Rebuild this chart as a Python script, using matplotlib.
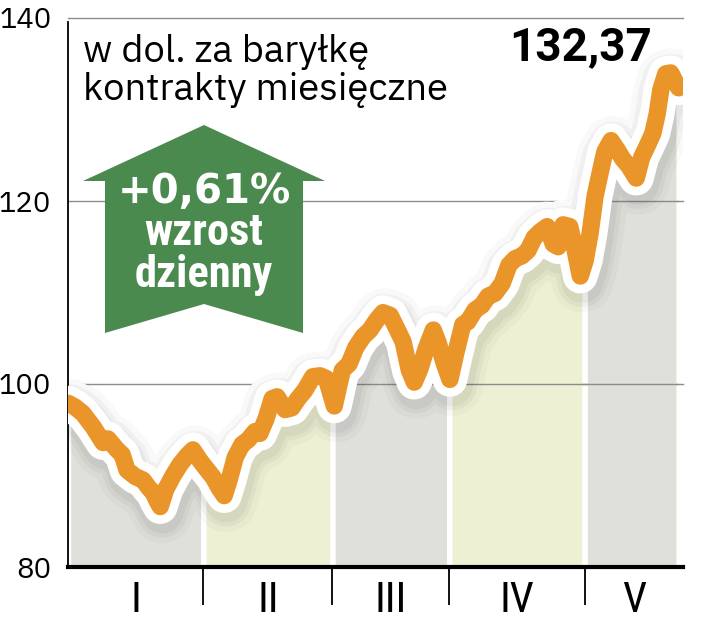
import numpy as np
import matplotlib
matplotlib.use("Agg")
import matplotlib.pyplot as plt
from matplotlib.patches import Polygon
from matplotlib import transforms

# trading-day position (0 = first session of January) and price, USD per barrel
days = [0.0, 1.1, 2.4, 4.1, 5.7, 6.5, 8.0, 8.8, 9.6, 10.9, 12.2, 13.2, 13.8, 14.5, 15.0,
        15.9, 17.1, 18.2, 19.4, 20.3, 21.5, 22.3, 23.6, 24.6, 25.4, 26.2, 27.2, 28.3,
        29.3, 30.4, 31.2, 32.2, 33.2, 34.0, 35.3, 36.4, 37.4, 38.5, 39.8, 41.0, 42.0,
        43.3, 44.6, 45.7, 46.8, 48.0, 49.1, 50.2, 51.2, 52.4, 53.5, 54.5, 55.5, 56.3,
        57.2, 58.2, 59.4, 60.2, 61.1, 62.1, 63.1, 64.2, 65.0, 66.2, 67.3, 68.3, 69.4,
        70.6, 71.7, 72.7, 73.8, 74.8, 75.8, 76.7, 77.9, 78.9, 79.7, 80.5, 81.6, 82.4,
        83.3, 84.1, 84.9, 85.7, 86.5, 87.3, 88.3, 89.3, 90.2, 91.2, 92.4, 93.3, 94.3,
        95.1, 95.8, 96.4, 97.2, 98.0, 98.7, 99.3]
price = [97.9, 97.5, 96.8, 95.3, 93.6, 94.0, 92.8, 92.3, 90.6, 89.9, 89.5, 88.6, 88.2, 87.2, 86.6,
         88.5, 90.0, 91.2, 92.2, 92.8, 91.6, 90.9, 89.8, 88.6, 87.8, 89.5, 92.0, 93.4,
         93.9, 94.8, 94.6, 96.2, 98.4, 98.6, 97.2, 97.4, 98.4, 99.3, 100.8, 100.9, 100.6,
         97.6, 101.5, 102.2, 104.0, 105.2, 105.9, 107.0, 107.8, 107.5, 106.0, 104.6, 101.5, 100.2,
         101.6, 103.8, 105.9, 104.5, 102.4, 100.5, 103.5, 106.5, 106.8, 108.1, 108.6, 109.6, 109.9,
         111.0, 113.0, 113.7, 114.0, 114.6, 116.0, 116.6, 117.2, 115.3, 115.0, 117.4, 117.2, 114.8,
         111.8, 113.5, 116.5, 120.5, 123.0, 125.4, 126.6, 125.6, 124.6, 123.8, 122.5, 124.8, 126.2,
         127.4, 129.5, 132.2, 133.9, 134.0, 133.1, 132.37]

months = ["I", "II", "III", "IV", "V"]
month_edges = [0, 22, 43, 62, 84, 100]   # cumulative trading days
yticks = [80, 100, 120, 140]

title = "w dol. za baryłkę\nkontrakty miesięczne"
last_value = "132,37"
change = "+0,61%"

orange = "#e9952a"
green = "#4b8a4f"
fills = ["#dfe0da", "#eef0d3"]
gridc = "#8c8c8c"
fam_t = ["IBM Plex Sans", "Open Sans", "DejaVu Sans"]
fam_c = ["Roboto Condensed", "DejaVu Sans"]

fig = plt.figure(figsize=(7.2, 6.22), dpi=100)
ax = fig.add_axes([68 / 720, 55 / 622, 615 / 720, 549 / 622])
ax.set_xlim(0, 100)
ax.set_ylim(80, 140)

x = np.array(days)
y = np.array(price)

# gridlines: full ones under everything, copies clipped to the area below the curve
under = Polygon(np.vstack([[x[0], 80], np.column_stack([x, y]), [x[-1], 80]]),
                closed=True, transform=ax.transData)
for v in yticks[1:]:
    ax.axhline(v, color=gridc, lw=1.0, zorder=0.5, clip_on=False)
    g = ax.axhline(v, color=gridc, lw=1.0, zorder=1.5)
    g.set_clip_path(under)

# white glow that trims gridlines near the line
ax.plot(x, y, color="white", lw=36, solid_capstyle="round", solid_joinstyle="round", zorder=0.8)

# month backgrounds under the curve
gap = 0.45
for i in range(len(months)):
    a = month_edges[i] + gap
    b = min(month_edges[i + 1], x[-1]) - gap
    xx = np.linspace(a, b, 200)
    ax.fill_between(xx, 80, np.interp(xx, x, y), color=fills[i % 2], lw=0, zorder=1)

# soft shadow, white halo, line
tr = transforms.offset_copy(ax.transData, fig=fig, x=2, y=-6, units="dots")
for lw, al in [(44, 0.025), (36, 0.035), (30, 0.04)]:
    ax.plot(x, y, color="black", alpha=al, lw=lw, transform=tr,
            solid_capstyle="round", solid_joinstyle="round", zorder=2)
ax.plot(x, y, color="white", lw=25, solid_capstyle="round", solid_joinstyle="round", zorder=3)
ax.plot(x, y, color=orange, lw=12.5, solid_capstyle="round", solid_joinstyle="round", zorder=4)

# axes
for s in ["top", "right"]:
    ax.spines[s].set_visible(False)
ax.spines["left"].set_linewidth(1.3)
ax.spines["left"].set_bounds(80, 139.6)
ax.spines["bottom"].set_linewidth(3)
ax.spines["bottom"].set_zorder(5)
ax.set_yticks(yticks)
ax.set_yticklabels([str(v) for v in yticks], fontsize=21,
                   family=["IBM Plex Sans Light", "IBM Plex Sans", "Open Sans", "DejaVu Sans"],
                   fontweight="light")
ax.tick_params(axis="y", length=0, pad=12)
ax.set_xticks([])
ax.set_xticks(month_edges[1:-1], minor=True)
ax.tick_params(axis="x", which="minor", length=27, width=1.3, color="black", direction="out")

yb = transforms.blended_transform_factory(ax.transData, fig.transFigure)
for i, m in enumerate(months):
    ax.text((month_edges[i] + month_edges[i + 1]) / 2, 1 - 612 / 622, m, transform=yb,
            ha="center", va="baseline", fontsize=31, family=fam_c)

# texts
lines = title.split("\n")
fig.text(83 / 720, 1 - 62 / 622, lines[0], fontsize=27.5, va="baseline", family=fam_t)
fig.text(83 / 720, 1 - 100 / 622, lines[1], fontsize=27.5, va="baseline", family=fam_t)
fig.text(652 / 720, 1 - 60 / 622, last_value, fontsize=33, fontweight="bold", ha="right",
         va="baseline", family=["Roboto", "DejaVu Sans"])

# green arrow
arrow_px = [(204, 125), (325, 181), (303, 181), (303, 333), (204, 304),
            (105, 333), (105, 181), (83, 181)]
arrow = Polygon([(px / 720, 1 - py / 622) for px, py in arrow_px], closed=True,
                transform=fig.transFigure, facecolor=green, edgecolor="none", zorder=6)
fig.patches.append(arrow)
fig.text(204 / 720, 1 - 203 / 622, change, fontsize=29, fontweight="bold", color="white",
         ha="center", va="baseline", family=["DejaVu Sans"], zorder=7)
fig.text(204 / 720, 1 - 245 / 622, "wzrost", fontsize=32, fontweight="bold", color="white",
         ha="center", va="baseline", family=fam_c, zorder=7)
fig.text(204 / 720, 1 - 287 / 622, "dzienny", fontsize=32, fontweight="bold", color="white",
         ha="center", va="baseline", family=fam_c, zorder=7)

fig.savefig("out.png", dpi=100)
